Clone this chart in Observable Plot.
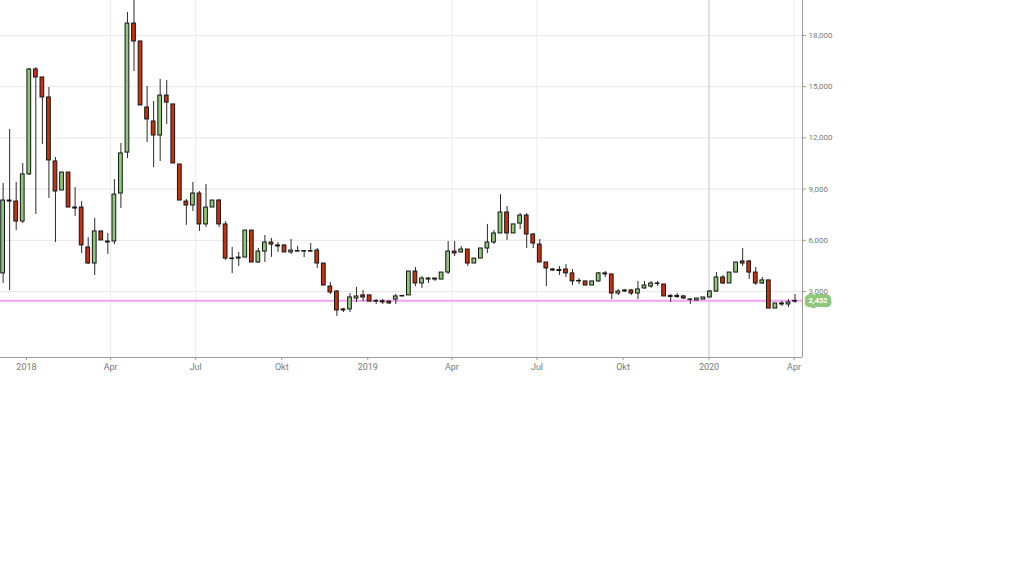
<!DOCTYPE html>
<html>
<head>
<meta charset="utf-8">
<script src="https://cdn.jsdelivr.net/npm/d3@7"></script>
<script src="https://cdn.jsdelivr.net/npm/@observablehq/plot@0.6"></script>
<style>
  html, body { margin: 0; padding: 0; background: #fff; }
  #chart { width: 1025px; height: 576px; }
</style>
</head>
<body>
<div id="chart"></div>
<script>
const dates = [
  "2017-12-07","2017-12-14","2017-12-21","2017-12-28",
  "2018-01-04","2018-01-11","2018-01-18","2018-01-25","2018-02-01","2018-02-08","2018-02-15","2018-02-22",
  "2018-03-01","2018-03-08","2018-03-15","2018-03-22","2018-03-29","2018-04-05","2018-04-12","2018-04-19",
  "2018-04-26","2018-05-03","2018-05-10","2018-05-17","2018-05-24","2018-05-31","2018-06-07","2018-06-14",
  "2018-06-21","2018-06-28","2018-07-05","2018-07-12","2018-07-19","2018-07-26","2018-08-02","2018-08-09",
  "2018-08-16","2018-08-23","2018-08-30","2018-09-06","2018-09-13","2018-09-20","2018-09-27","2018-10-04",
  "2018-10-11","2018-10-18","2018-10-25","2018-11-01","2018-11-08","2018-11-15","2018-11-22","2018-11-29",
  "2018-12-06","2018-12-13","2018-12-20","2018-12-27",
  "2019-01-03","2019-01-10","2019-01-17","2019-01-24","2019-01-31","2019-02-07","2019-02-14","2019-02-21",
  "2019-02-28","2019-03-07","2019-03-14","2019-03-21","2019-03-28","2019-04-04","2019-04-11","2019-04-18",
  "2019-04-25","2019-05-02","2019-05-09","2019-05-16","2019-05-23","2019-05-30","2019-06-06","2019-06-13",
  "2019-06-20","2019-06-27","2019-07-04","2019-07-11","2019-07-18","2019-07-25","2019-08-01","2019-08-08",
  "2019-08-15","2019-08-22","2019-08-29","2019-09-05","2019-09-12","2019-09-19","2019-09-26","2019-10-03",
  "2019-10-10","2019-10-17","2019-10-24","2019-10-31","2019-11-07","2019-11-14","2019-11-21","2019-11-28",
  "2019-12-05","2019-12-12","2019-12-19","2019-12-26",
  "2020-01-02","2020-01-09","2020-01-16","2020-01-23","2020-01-30","2020-02-06","2020-02-13","2020-02-20",
  "2020-02-27","2020-03-05","2020-03-12","2020-03-19","2020-03-26","2020-04-02"
];
const open = [
  4060,8330,8270,7100,9860,16010,15540,14370,10620,8920,9970,7860,
  7920,5580,4640,6520,5930,5930,8740,11140,18700,17650,13780,12960,
  12140,14480,13960,10440,8270,8040,8740,6930,7920,8330,6930,4930,
  4990,4990,6570,4700,5340,5870,5700,5700,5290,5370,5370,5370,
  5400,4640,3290,3000,1890,1950,2590,2770,
  2770,2440,2430,2410,2530,2740,2770,4170,3470,3700,3760,3700,
  4110,5340,5290,5460,4640,4930,5520,5870,6400,7630,6400,6980,
  7450,6340,5750,4700,4290,4200,4290,4060,3620,3590,3350,3590,
  4060,4000,2880,3000,3060,2880,3180,3290,3470,3410,2740,2740,
  2710,2530,2470,2530,
  2650,3000,3820,3470,4110,4760,4760,4110,3470,3650,2000,2300,2240,2410
];
const high = [
  9330,12490,9390,10500,16070,16120,15540,14950,10850,9970,9970,9090,
  8270,6160,7280,6520,6400,9560,11670,19350,20150,17650,15010,14130,
  15420,15360,13960,10440,8390,9390,8860,9270,8330,8390,7100,5580,
  5290,6570,6570,5520,6280,6110,5870,5700,6050,5640,5400,5810,
  5520,4640,3530,3060,2000,2880,3240,3060,
  2770,2530,2550,2430,2820,2770,4170,4410,3880,3820,3760,4110,
  5930,5930,5640,5460,4930,5520,6930,6570,8680,7980,6930,7570,
  7570,6400,6050,4700,4350,4470,4580,4290,3760,3590,3590,4110,
  4170,4000,3120,3120,3120,3590,3590,3590,3590,3410,2820,2880,
  2770,2590,2590,2650,
  3060,4110,3940,4110,4700,5520,4820,4410,3820,3650,2300,2410,2530,2820
];
const low = [
  3470,3060,6570,6980,9800,7510,11610,8450,5870,8920,7920,7400,
  5230,4580,3940,5990,5170,5750,7860,10790,15890,13900,11730,10270,
  10620,12790,10500,8330,6870,7690,6520,6750,7920,6750,4820,4050,
  4470,4990,4700,4640,4700,5000,5290,5290,5170,5290,4990,5290,
  4350,3350,2820,1540,1770,1770,2360,2410,
  2410,2240,2240,2240,2240,2680,2770,3290,3180,3470,3590,3700,
  4000,5050,5230,4470,4640,4930,5230,5750,6400,5990,6400,6630,
  5520,5520,4700,3290,4170,3940,3820,3350,3410,3350,3350,3530,
  3820,2530,2770,2940,2770,2530,3120,3180,3290,2710,2360,2590,
  2530,2240,2470,2530,
  2650,2940,3410,3470,4110,4470,3700,3350,3410,2000,2000,2120,2060,2300
];
const close = [
  8330,8270,7100,9860,16010,15540,14370,10680,8860,9970,7920,7920,
  5700,4640,6520,5990,5870,8680,11090,18700,17650,13900,13080,12140,
  14480,14070,10500,8330,8040,8740,6930,7920,8330,6930,4930,4900,
  4930,6570,4700,5340,5870,5750,5640,5290,5400,5340,5340,5340,
  4640,3350,2940,1890,1950,2650,2710,2650,
  2410,2410,2360,2300,2710,2710,4170,3470,3760,3760,3700,4110,
  5340,5230,5460,4640,4930,5520,5870,6400,7630,6400,6930,7450,
  6340,5810,4700,4350,4230,4260,4060,3590,3590,3350,3590,4060,
  4000,2880,3000,3060,2880,3120,3350,3470,3440,2710,2680,2680,
  2590,2510,2590,2650,
  3000,3820,3470,4110,4700,4640,4110,3470,3650,2000,2300,2240,2360,2452
];
const yTicks = [3000, 6000, 9000, 12000, 15000, 18000];
const xTickDates = ["2018-01-01","2018-04-01","2018-07-01","2018-10-01","2019-01-01","2019-04-01","2019-07-01","2019-10-01","2020-01-01","2020-04-01"];
const xTickLabels = ["2018","Apr","Jul","Okt","2019","Apr","Jul","Okt","2020","Apr"];
const gridDates = ["2018-04-01","2018-07-01","2019-04-01","2019-07-01","2020-04-01"];
const crossDate = "2020-01-01";
const lastPrice = 2452;
const lastLabel = "2,452";

const green = "#8fc77b";
const red = "#c4320f";

const data = dates.map((d, i) => ({
  date: new Date(d + "T00:00:00Z"),
  open: open[i], high: high[i], low: low[i], close: close[i]
}));

const xDomain = [new Date("2017-12-04T05:00:00Z"), new Date("2020-04-10T00:00:00Z")];
const yDomain = [-867, 20050];
const tickMap = new Map(xTickDates.map((d, i) => [+new Date(d + "T00:00:00Z"), xTickLabels[i]]));
const halfWidth = 48 * 3600 * 1000;

const chart = Plot.plot({
  width: 1025,
  height: 380,
  marginLeft: 0,
  marginRight: 223,
  marginTop: 0,
  marginBottom: 23,
  style: { fontFamily: "Roboto, 'Open Sans', sans-serif", background: "#fff", overflow: "visible" },
  x: { type: "utc", domain: xDomain },
  y: { domain: yDomain },
  marks: [
    Plot.ruleY(yTicks, { stroke: "#e7e7e7", strokeWidth: 1 }),
    Plot.ruleX(gridDates.map(d => new Date(d + "T00:00:00Z")), { stroke: "#ebebeb", strokeWidth: 1 }),
    Plot.ruleX([new Date(crossDate + "T00:00:00Z")], { stroke: "#c4c4c4", strokeWidth: 1 }),
    Plot.ruleY([lastPrice], { stroke: "#f2a2f0", strokeWidth: 2 }),
    Plot.ruleX(data, { x: "date", y1: "low", y2: "high", stroke: "#2b2b2b", strokeWidth: 1, clip: true }),
    Plot.rect(data, {
      x1: d => new Date(+d.date - halfWidth),
      x2: d => new Date(+d.date + halfWidth),
      y1: "open", y2: "close",
      fill: d => d.close >= d.open ? green : red,
      stroke: "#151515", strokeWidth: 1, clip: true
    }),
    Plot.ruleY([yDomain[0]], { stroke: "#9a9a9a", strokeWidth: 1 }),
    Plot.ruleX([xDomain[1]], { stroke: "#9a9a9a", strokeWidth: 1 }),
    Plot.axisY({
      anchor: "right", ticks: yTicks, tickFormat: d3.format(","),
      tickSize: 3, tickPadding: 3, fontSize: 8, color: "#7a7a7a", stroke: "#9a9a9a"
    }),
    Plot.axisX({
      ticks: xTickDates.map(d => new Date(d + "T00:00:00Z")),
      tickFormat: d => tickMap.get(+d),
      tickSize: 3, tickPadding: 3, fontSize: 9, color: "#7a7a7a", stroke: "#9a9a9a"
    }),
    Plot.text([lastPrice], {
      y: d => d, frameAnchor: "right", dx: 6, textAnchor: "start",
      text: () => lastLabel, fill: "#fff", fontWeight: "bold", fontSize: 7.5,
      stroke: green, strokeWidth: 8, strokeLinejoin: "round", paintOrder: "stroke"
    })
  ]
});
document.getElementById("chart").appendChild(chart);
</script>
</body>
</html>
